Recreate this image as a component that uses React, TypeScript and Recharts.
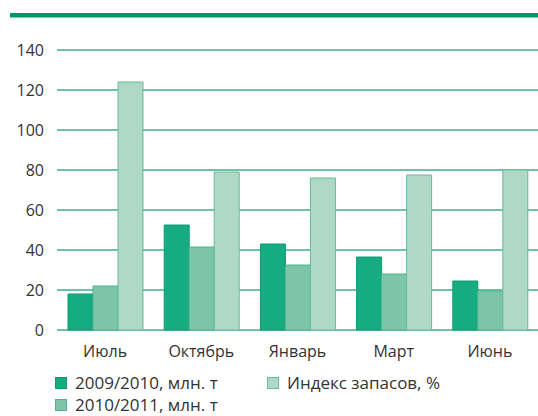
import { BarChart, Bar, XAxis, YAxis, CartesianGrid } from 'recharts'

const months = ['Июль', 'Октябрь', 'Январь', 'Март', 'Июнь']
const season0910 = [18, 52.5, 43, 36.5, 24.5]
const season1011 = [22, 41.5, 32.5, 28, 19.5]
const stockIndex = [124, 79, 76, 77.5, 80]
const yTicks = [0, 20, 40, 60, 80, 100, 120, 140]

const data = months.map((m, i) => ({
  month: m,
  a: season0910[i],
  b: season1011[i],
  c: stockIndex[i],
}))

const font = '"Open Sans", "Noto Sans", sans-serif'
const textColor = '#333'

function LegendItem({ color, border, label, x, y }: { color: string; border: string; label: string; x: number; y: number }) {
  return (
    <div style={{ position: 'absolute', left: x, top: y, display: 'flex', alignItems: 'center', whiteSpace: 'nowrap' }}>
      <span style={{ display: 'inline-block', width: 10, height: 10, background: color, border: `1px solid ${border}`, marginRight: 8 }} />
      <span style={{ fontSize: 17, color: textColor, fontFamily: font }}>{label}</span>
    </div>
  )
}

export default function App() {
  return (
    <div style={{ position: 'absolute', left: 0, top: 0, width: 538, height: 416, background: '#fff', overflow: 'hidden' }}>
      <div style={{ position: 'absolute', left: 10, top: 13, width: 528, height: 4, background: '#009966' }} />
      <div style={{ position: 'absolute', left: 10, top: 17, width: 528, height: 1, background: '#7fcab0' }} />
      <BarChart
        width={538}
        height={416}
        data={data}
        margin={{ top: 50, right: 0, left: 0, bottom: 56 }}
        barGap={0}
        barCategoryGap={11}
      >
        <CartesianGrid vertical={false} stroke="#3daf87" strokeWidth={1.5} />
        <XAxis
          dataKey="month"
          axisLine={false}
          tickLine={false}
          tickMargin={10}
          height={30}
          tick={{ fontSize: 16, fill: textColor, fontFamily: font }}
        />
        <YAxis
          domain={[0, 140]}
          ticks={yTicks}
          width={57}
          axisLine={false}
          tickLine={false}
          tickMargin={7}
          tick={{ fontSize: 16, fill: textColor, fontFamily: font }}
        />
        <Bar dataKey="a" fill="#17ab82" stroke="#0f9a70" strokeWidth={1} isAnimationActive={false} />
        <Bar dataKey="b" fill="#7cc5a8" stroke="#4fb48d" strokeWidth={1} isAnimationActive={false} />
        <Bar dataKey="c" fill="#afd8c7" stroke="#62bd98" strokeWidth={1} isAnimationActive={false} />
      </BarChart>
      <LegendItem color="#17ab82" border="#0f9a70" label="2009/2010, млн. т" x={55} y={371} />
      <LegendItem color="#afd8c7" border="#62bd98" label="Индекс запасов, %" x={267} y={371} />
      <LegendItem color="#7cc5a8" border="#4fb48d" label="2010/2011, млн. т" x={55} y={393} />
    </div>
  )
}
